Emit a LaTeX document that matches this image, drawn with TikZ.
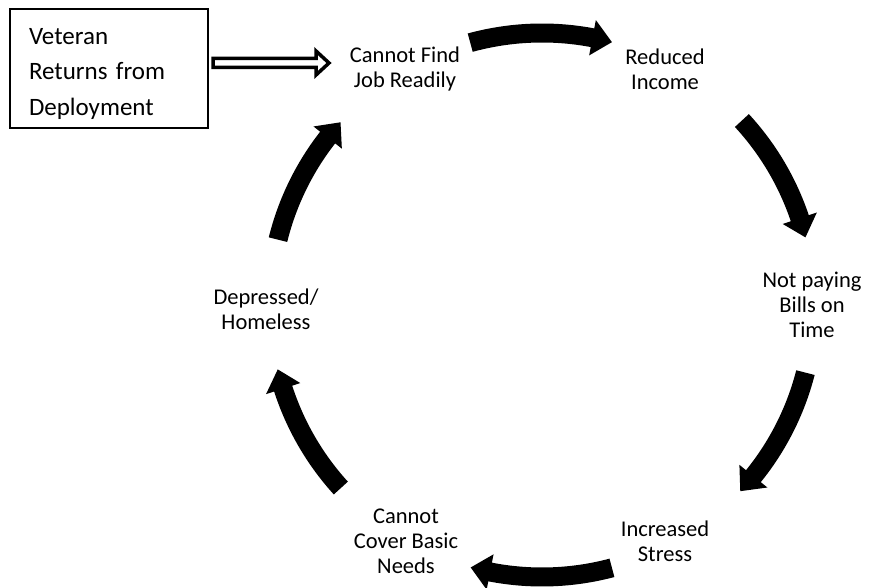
\documentclass[tikz,border=0pt]{standalone}
\usepackage{fontspec}
\setmainfont{Carlito}
\usetikzlibrary{calc}
\newcommand\cycarrow[2]{%
  \pgfmathsetmacro\hb{#2+4.2}%
  \fill[cycarr] (#1:281.5) arc[start angle=#1, end angle=\hb, radius=281.5]
    -- (\hb:290) -- (#2:272) -- (\hb:254) -- (\hb:262.5)
    arc[start angle=\hb, end angle=#1, radius=262.5] -- cycle;
}
\begin{document}
\begin{tikzpicture}[x=1pt,y=1pt,
  lbl/.style={align=center, font=\fontsize{22.5}{25}\selectfont, inner sep=0pt},
  vetbox/.style={draw=black, line width=1.5pt, align=left, text width=160pt,
    minimum width=198pt, minimum height=119pt, inner sep=0pt,
    font=\fontsize{25}{35.5}\selectfont},
  cycarr/.style={fill=black},
  openarr/.style={draw=black, line width=3.5pt, fill=white, line join=miter}]
\useasboundingbox (0,0) rectangle (870,588);
\fill[white] (0,0) rectangle (870,588);

\node[vetbox] (vet) at (109,519.5) {\rule{0pt}{27pt}Veteran\\Returns from\\Deployment};

\node[lbl] (cf) at (405,519) {Cannot Find\\Job Readily};
\node[lbl] (ri) at (665,519) {Reduced\\Income};
\node[lbl] (np) at (812,283) {Not paying\\Bills on\\Time};
\node[lbl] (is) at (665,47) {Increased\\Stress};
\node[lbl] (cc) at (406,47) {Cannot\\Cover Basic\\Needs};
\node[lbl] (dh) at (266,279) {Depressed/\\Homeless};

\coordinate (da) at (213,525);
\coordinate (db) at (329,525);
\draw[openarr] ($(da)+(0,4.5)$) -- ($(db)+(-13,4.5)$) -- ($(db)+(-13,12)$) -- (db)
  -- ($(db)+(-13,-12)$) -- ($(db)+(-13,-4.5)$) -- ($(da)+(0,-4.5)$) -- cycle;

\begin{scope}[shift={(542,283)}]
  \coordinate (ctr) at (0,0);
  \cycarrow{105.3}{75.1}
  \cycarrow{42.7}{14.4}
  \cycarrow{-14.4}{-43.2}
  \cycarrow{-75.1}{-105.2}
  \cycarrow{-137.7}{-166.3}
  \cycarrow{166.1}{137.8}
\end{scope}
\end{tikzpicture}
\end{document}
